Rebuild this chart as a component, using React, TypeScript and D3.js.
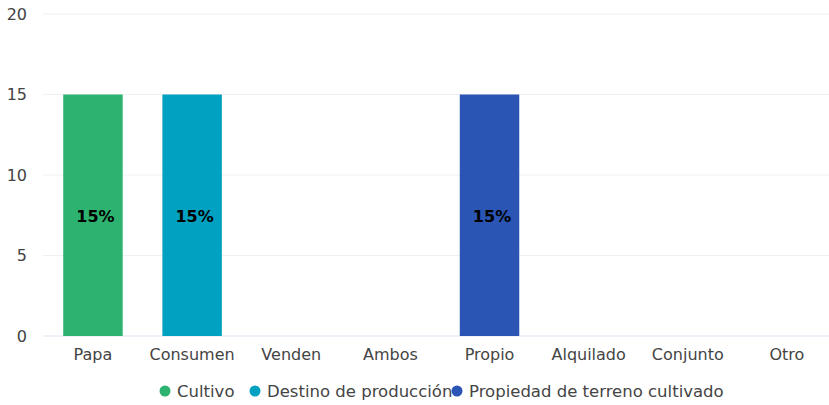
import React from "react";
import * as d3 from "d3";

const categories = ["Papa", "Consumen", "Venden", "Ambos", "Propio", "Alquilado", "Conjunto", "Otro"];
const seriesNames = ["Cultivo", "Destino de producción", "Propiedad de terreno cultivado"];
const seriesColors = ["#2db36f", "#00a1c1", "#2a55b4"];
// value of each category, and the series it belongs to
const cultivoValues = [15, null, null, null, null, null, null, null];
const destinoValues = [null, 15, 0, 0, null, null, null, null];
const propiedadValues = [null, null, null, null, 15, 0, 0, 0];
const yTicks = [0, 5, 10, 15, 20];

const W = 829;
const H = 405;
const FONT = "'DejaVu Sans', Verdana, sans-serif";

export default function App() {
  const x = d3.scaleBand<string>().domain(categories).range([43.4, 836.5]).paddingInner(0).paddingOuter(0);
  const y = d3.scaleLinear().domain([0, 20]).range([336, 14]);
  const barW = x.bandwidth() * 0.6;
  const allSeries = [cultivoValues, destinoValues, propiedadValues];

  const bars: { cat: string; v: number; s: number }[] = [];
  allSeries.forEach((vals, s) => {
    vals.forEach((v, i) => {
      if (v !== null && v !== undefined) bars.push({ cat: categories[i], v, s });
    });
  });

  const legendX = [165, 255, 457];

  return (
    <svg width={W} height={H} style={{ position: "absolute", left: 0, top: 0, background: "#fff" }} fontFamily={FONT}>
      {yTicks.map((t) => (
        <g key={t}>
          <line x1={43} x2={W} y1={y(t)} y2={y(t)} stroke={t === 0 ? "#dde3ef" : "#eef0f4"} strokeWidth={1} />
          <text x={27} y={y(t)} dy="0.36em" textAnchor="end" fontSize={16} fill="#444">{t}</text>
        </g>
      ))}
      {bars.map((b, i) => {
        const cx = (x(b.cat) as number) + x.bandwidth() / 2;
        const top = y(b.v);
        const h = y(0) - top;
        return (
          <g key={i}>
            {h > 0 && <rect x={cx - barW / 2} y={top} width={barW} height={h} fill={seriesColors[b.s]} />}
            {b.v > 0 && (
              <text x={cx + 2.5} y={(top + y(0)) / 2 + 1} dy="0.36em" textAnchor="middle" fontSize={16} fontWeight="bold" fill="#000">
                {b.v}%
              </text>
            )}
          </g>
        );
      })}
      {categories.map((c) => (
        <text key={c} x={(x(c) as number) + x.bandwidth() / 2} y={360} textAnchor="middle" fontSize={16} fill="#444">
          {c}
        </text>
      ))}
      {seriesNames.map((n, i) => (
        <g key={n}>
          <text x={legendX[i] + 12} y={391} dy="0.36em" fontSize={16.5} fill="#444">{n}</text>
        </g>
      ))}
      {seriesNames.map((n, i) => (
        <circle key={n} cx={legendX[i]} cy={391} r={5.5} fill={seriesColors[i]} />
      ))}
    </svg>
  );
}
